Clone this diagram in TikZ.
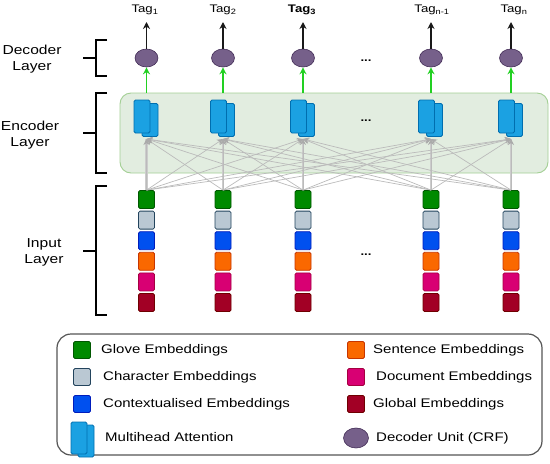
\documentclass[tikz,border=0pt]{standalone}
\usepackage{fontspec}
\setmainfont{Liberation Sans}[FakeStretch=1.2]
\usetikzlibrary{arrows.meta,shapes.geometric}
\definecolor{gfill}{HTML}{008A00}\definecolor{gline}{HTML}{005700}
\definecolor{cfill}{HTML}{BAC8D3}\definecolor{cline}{HTML}{23445D}
\definecolor{bfill}{HTML}{0050EF}\definecolor{bline}{HTML}{001DBC}
\definecolor{ofill}{HTML}{FA6800}\definecolor{oline}{HTML}{C73500}
\definecolor{pfill}{HTML}{D80073}\definecolor{pline}{HTML}{A50040}
\definecolor{rfill}{HTML}{A20025}\definecolor{rline}{HTML}{6F0000}
\definecolor{afill}{HTML}{1BA1E2}\definecolor{aline}{HTML}{006EAF}
\definecolor{efill}{HTML}{76608A}\definecolor{eline}{HTML}{432D57}
\definecolor{boxfill}{HTML}{E2EDE0}\definecolor{boxline}{HTML}{A3CF94}
\definecolor{arrgray}{HTML}{BBBBBB}
\definecolor{vertgray}{HTML}{CCCCCC}
\definecolor{headgray}{HTML}{AAAAAA}
\definecolor{arrgreen}{HTML}{22D022}
\definecolor{legline}{HTML}{555555}
\tikzset{
  sq/.style={rectangle, rounded corners=1.5pt, minimum width=16pt, minimum height=18pt, inner sep=0pt, line width=0.8pt},
  sqg/.style={fill=gfill, draw=gline},
  sqc/.style={fill=cfill, draw=cline},
  sqb/.style={fill=bfill, draw=bline},
  sqo/.style={fill=ofill, draw=oline},
  sqp/.style={fill=pfill, draw=pline},
  sqr/.style={fill=rfill, draw=rline},
  attbox/.style={rectangle, rounded corners=1.5pt, fill=afill, draw=aline, line width=0.8pt, minimum width=16pt, minimum height=33pt, inner sep=0pt},
  decunit/.style={ellipse, fill=efill, draw=eline, line width=0.6pt, minimum width=23pt, minimum height=18pt, inner sep=0pt},
  grayarr/.style={draw=arrgray, line width=0.7pt, -{Stealth[length=6pt,width=6pt,color=headgray]}},
  grayvert/.style={draw=vertgray, line width=2.8pt},
  greenarr/.style={draw=arrgreen, line width=1.6pt, -{Stealth[length=7pt,width=7pt]}},
  blackarr/.style={draw=black!90, line width=1.6pt, -{Stealth[length=7pt,width=7pt]}},
  bracketline/.style={draw=black, line width=1.4pt},
  lbl/.style={align=center, font=\fontsize{13}{16}\selectfont, inner sep=0pt},
  tagl/.style={font=\fontsize{11}{12}\selectfont, inner sep=0pt},
  legtext/.style={anchor=west, font=\fontsize{12.5}{14}\selectfont, inner sep=0pt},
  dotsl/.style={font=\fontsize{11}{12}\selectfont\bfseries, inner sep=0pt}
}
\begin{document}
\begin{tikzpicture}[x=1pt,y=-1pt]
\useasboundingbox (0,0) rectangle (550,464);
% encoder background
\draw[fill=boxfill, draw=boxline, line width=0.9pt, rounded corners=11pt] (120,93) rectangle (548,173);
% columns
\foreach \c [count=\i] in {146.5,223,303,431,511}{
  \foreach \s [count=\k] in {sqg,sqc,sqb,sqo,sqp,sqr}{
    \node[sq,\s] (s\i-\k) at (\c,{199.5+20.6*(\k-1)}) {};
  }
  \node[attbox] (attb\i) at (\c+3.5,120) {};
  \node[attbox] (att\i) at (\c-4.5,116.5) {};
  \coordinate (ain\i) at (\c,139);
  \coordinate (gt\i) at (\c,93);
  \node[decunit] (dec\i) at (\c,58) {};
  \coordinate (tp\i) at (\c,22);
}
% gray connectors
\foreach \i in {1,...,5}{
  \draw[grayvert] (s\i-1.north) -- (ain\i);
}
\foreach \i in {1,...,5}{
  \foreach \j in {1,...,5}{
    \draw[grayarr] (s\i-1.north) -- (ain\j);
  }
}
% green and black arrows
\foreach \i in {1,...,5}{
  \draw[greenarr] (gt\i) -- (dec\i.south);
  \draw[blackarr] (dec\i.north) -- (tp\i);
}
% tags
\node[tagl] (tag1) at (145,10) {Tag\textsubscript{1}};
\node[tagl] (tag2) at (223,10) {Tag\textsubscript{2}};
\node[tagl] (tag3) at (302,10) {\textbf{Tag\textsubscript{3}}};
\node[tagl] (tag4) at (432,10) {Tag\textsubscript{n-1}};
\node[tagl] (tag5) at (514,10) {Tag\textsubscript{n}};
% dots
\node[dotsl] (d1) at (366,61) {...};
\node[dotsl] (d2) at (366,121) {...};
\node[dotsl] (d3) at (366,255) {...};
% brackets
\draw[bracketline] (107,40) -- (96,40) -- (96,76) -- (107,76);
\draw[bracketline] (83,58) -- (96,58);
\draw[bracketline] (107,93) -- (96,93) -- (96,173) -- (107,173);
\draw[bracketline] (83,133) -- (96,133);
\draw[bracketline] (107,186) -- (96,186) -- (96,315) -- (107,315);
\draw[bracketline] (83,251) -- (96,251);
% layer labels
\node[lbl] (ldec) at (32,59) {Decoder\\Layer};
\node[lbl] (lenc) at (30,135) {Encoder\\Layer};
\node[lbl] (linp) at (44,252) {Input\\Layer};
% legend
\draw[draw=legline, line width=1.2pt, rounded corners=14pt] (57,334) rectangle (542,455);
\node[sq,sqg,minimum height=17pt,minimum width=17pt] (lg1) at (82,350) {};
\node[sq,sqc,minimum height=17pt,minimum width=17pt] (lg2) at (82,377) {};
\node[sq,sqb,minimum height=17pt,minimum width=17pt] (lg3) at (82,404) {};
\node[attbox,minimum height=32pt] (lgab) at (86,441) {};
\node[attbox,minimum height=32pt] (lga) at (79,438) {};
\node[sq,sqo,minimum height=17pt,minimum width=17pt] (lg5) at (356,350) {};
\node[sq,sqp,minimum height=17pt,minimum width=17pt] (lg6) at (356,377) {};
\node[sq,sqr,minimum height=17pt,minimum width=17pt] (lg7) at (356,404) {};
\node[decunit,minimum width=25pt,minimum height=20pt] (lg8) at (356,438) {};
\node[legtext] (t1) at (101,350) {Glove Embeddings};
\node[legtext] (t2) at (103,377) {Character Embeddings};
\node[legtext] (t3) at (103,404) {Contextualised Embeddings};
\node[legtext] (t4) at (105,437) {Multihead Attention};
\node[legtext] (t5) at (373,350) {Sentence Embeddings};
\node[legtext] (t6) at (376,377) {Document Embeddings};
\node[legtext] (t7) at (373,404) {Global Embeddings};
\node[legtext] (t8) at (376,438) {Decoder Unit (CRF)};
\end{tikzpicture}
\end{document}
